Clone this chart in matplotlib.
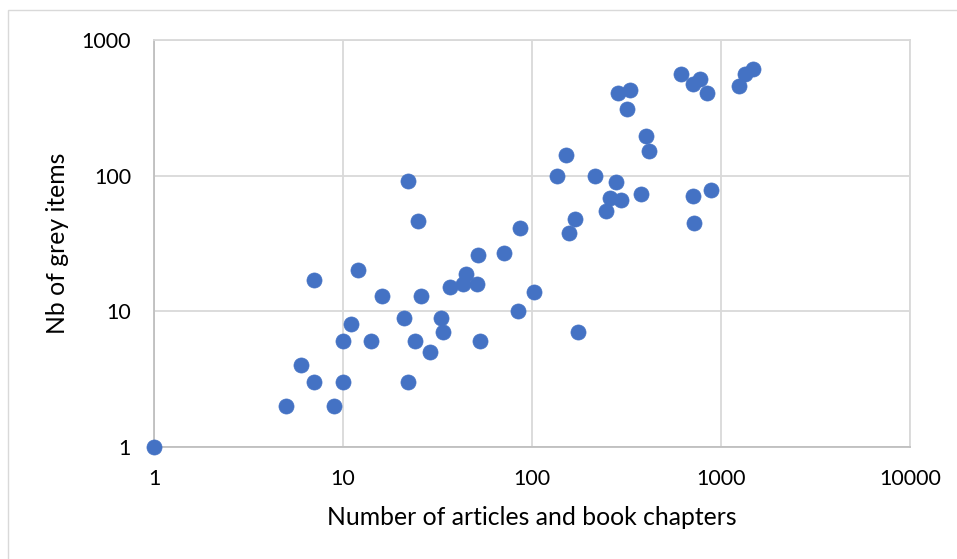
import matplotlib
matplotlib.use("Agg")
import matplotlib.pyplot as plt
from matplotlib.patches import Rectangle

articles = [1, 22, 25, 12, 7, 16, 26, 21, 33, 11, 34, 10, 14, 24, 29, 6, 7, 10, 22, 5, 9,
            136, 216, 277, 260, 294, 377, 713, 720, 246, 169, 157, 86, 71, 52, 45, 43, 51, 37,
            103, 84, 175, 53,
            152, 284, 332, 318, 399, 414, 614, 776, 707, 848, 1248, 1343, 1475, 888]
grey_items = [1, 92, 46, 20, 17, 13, 13, 9, 9, 8, 7, 6, 6, 6, 5, 4, 3, 3, 3, 2, 2,
              100, 100, 90, 68, 66, 73, 71, 45, 55, 48, 38, 41, 27, 26, 19, 16, 16, 15,
              14, 10, 7, 6,
              142, 409, 428, 310, 195, 152, 565, 513, 477, 409, 456, 563, 615, 79]

x_ticks = [1, 10, 100, 1000, 10000]
y_ticks = [1, 10, 100, 1000]
x_label = "Number of articles and book chapters"
y_label = "Nb of grey items"

plt.rcParams['font.family'] = ['Lato', 'DejaVu Sans']

W, H = 957, 559
fig = plt.figure(figsize=(W / 100, H / 100), dpi=100)
fig.patch.set_facecolor('white')

# outer chart border
fig.patches.append(Rectangle((8 / W, -0.05), 1.1, 1 - 10 / H + 0.05, transform=fig.transFigure,
                             fill=False, edgecolor='#D9D9D9', linewidth=1.0))

ax = fig.add_axes([154 / W, 1 - 447 / H, (910 - 154) / W, (447 - 40) / H])
ax.set_xscale('log')
ax.set_yscale('log')
ax.set_xlim(1, 10000)
ax.set_ylim(1, 1000)
ax.set_xticks(x_ticks)
ax.set_xticklabels([str(v) for v in x_ticks])
ax.set_yticks(y_ticks)
ax.set_yticklabels([str(v) for v in y_ticks])
ax.minorticks_off()
ax.tick_params(length=0, labelsize=15.5, colors='#000000')
ax.tick_params(axis='y', pad=16.5)
ax.tick_params(axis='x', pad=16)
ax.grid(True, color='#D9D9D9', linewidth=1.3)
ax.set_axisbelow(True)
for s in ['top', 'right']:
    ax.spines[s].set_color('#D9D9D9')
    ax.spines[s].set_linewidth(1.3)
for s in ['left', 'bottom']:
    ax.spines[s].set_color('#BFBFBF')
    ax.spines[s].set_linewidth(1.3)

ax.scatter(articles, grey_items, s=118, color='#4472C4', edgecolors='#4472C4',
           linewidths=0.5, zorder=3, clip_on=False)

ax.set_xlabel(x_label, fontsize=17.8, va='center')
ax.xaxis.set_label_coords(0.4993, -0.172)
ax.set_ylabel(y_label, fontsize=17.8, va='center')
ax.yaxis.set_label_coords(-0.127, 0.501)

fig.savefig('out.png', dpi=100, facecolor='white')
